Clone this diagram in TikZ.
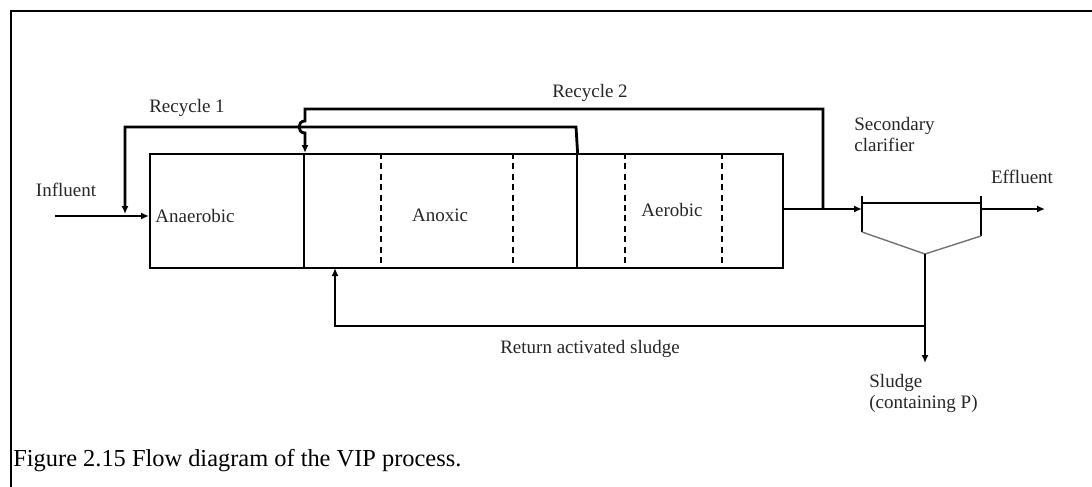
\documentclass[tikz,border=0pt]{standalone}
\usepackage{fontspec}
\setmainfont{Liberation Serif}
\usetikzlibrary{arrows.meta, positioning}

\begin{document}
\begin{tikzpicture}[
    x=0.5pt, y=-0.5pt,
    zone/.style={draw, line width=0.8pt, minimum height=57pt, inner sep=0pt, anchor=north west},
    lbl/.style={font=\fontsize{9.5}{10.5}\selectfont, inner sep=0pt, text=black!85},
    flow/.style={line width=1.4pt},
    arrow/.style={flow, -{Latex[length=4pt,width=3.5pt]}},
    divider/.style={line width=1pt, dash pattern=on 3pt off 2.2pt}
  ]
  \useasboundingbox (0,0) rectangle (1092,487);
  % page frame
  \draw[line width=1.3pt] (11,487) -- (11,11) -- (1092,11);

  % reactor zones
  \node[zone, minimum width=77pt] (anaer) at (149,153) {};
  \node[zone, minimum width=136.5pt] (anox) at (303,153) {};
  \node[zone, minimum width=103pt] (aer) at (576,153) {};
  \foreach \x in {381,513,625,722}
    \draw[divider] (\x,153) -- (\x,267);
  \node[lbl] (anaertxt) at (195,216) {Anaerobic};
  \node[lbl] (anoxtxt) at (440,215) {Anoxic};
  \node[lbl] (aertxt) at (672,210) {Aerobic};

  % secondary clarifier
  \coordinate (clin) at (862,209);
  \coordinate (clout) at (981,209);
  \coordinate (apex) at (925,254);
  \draw[line width=0.8pt] (862,203) -- (981,203);
  \draw[line width=1pt] (862,196) -- (862,232);
  \draw[line width=1pt] (981,196) -- (981,236);
  \draw[line width=0.7pt, black!55] (862,232) -- (apex) -- (981,236);

  % named points of the lines
  \coordinate (inlet) at (55,216);
  \coordinate (feed) at (149,216);
  \coordinate (tankout) at (782,209);
  \coordinate (split) at (823,209);
  \coordinate (effl) at (1045,209);
  \coordinate (waste) at (925,363);
  \coordinate (rasjoin) at (925,326);
  \coordinate (rasin) at (335,268);

  % flows
  \draw[arrow] (inlet) -- (feed);
  \draw[arrow] (anox.north east) -- (576,127) -- (125,127) -- (125,214);
  \draw[arrow] (split) -- (823,109) -- (305,109) -- (305,121)
        .. controls (297,121) and (297,133) .. (305,133) -- (305,153);
  \draw[arrow] (tankout) -- (clin);
  \draw[arrow] (clout) -- (effl);
  \draw[arrow] (apex) -- (waste);
  \draw[arrow] (rasjoin) -- (335,326) -- (rasin);

  % labels
  \node[lbl] (influent) at (66,190) {Influent};
  \node[lbl] (rec1) at (187,108) {Recycle 1};
  \node[lbl] (rec2) at (590,93) {Recycle 2};
  \node[lbl, anchor=north west, align=left] (sectxt) at (854,117) {Secondary\\clarifier};
  \node[lbl] (efftxt) at (1022,177) {Effluent};
  \node[lbl] (rastxt) at (590,349) {Return activated sludge};
  \node[lbl, anchor=north west, align=left] (sludgetxt) at (869,374) {Sludge\\(containing P)};

  % caption
  \node[anchor=base west, inner sep=0pt, font=\fontsize{12.2}{14}\selectfont] (caption) at (13,466)
        {Figure 2.15 Flow diagram of the VIP process.};
\end{tikzpicture}
\end{document}
